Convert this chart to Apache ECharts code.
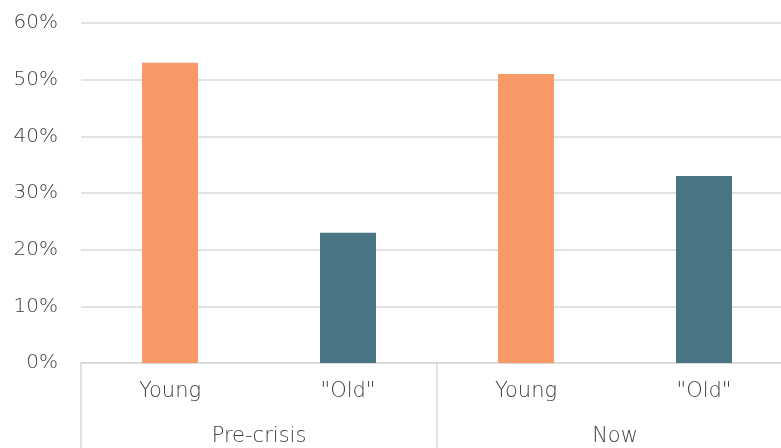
<!DOCTYPE html>
<html>
<head>
<meta charset="utf-8">
<script src="https://cdn.jsdelivr.net/npm/echarts@6/dist/echarts.min.js"></script>
<style>
  html, body { margin: 0; padding: 0; background: #fff; }
  #chart { width: 781px; height: 448px; }
</style>
</head>
<body>
<div id="chart"></div>
<script>
// data
const categories = ['Young', '"Old"', 'Young', '"Old"'];
const groups = ['Pre-crisis', 'Now'];
const values = [53, 23, 51, 33];
const yTicks = [0, 10, 20, 30, 40, 50, 60];

const colorYoung = '#F79A68';
const colorOld = '#4A7585';
const lineColor = '#d9d9d9';
const textColor = '#404040';
const font = 'DejaVu Sans';

let chart = echarts.init(document.getElementById('chart'));

let option = {
  animation: false,
  grid: {
    left: 81,
    top: 23,
    width: 712,
    height: 340,
    outerBoundsMode: 'none',
    containLabel: false
  },
  xAxis: [
    {
      type: 'category',
      data: categories,
      position: 'bottom',
      axisLine: { show: true, lineStyle: { color: lineColor, width: 1.5 } },
      axisTick: { show: false },
      axisLabel: {
        margin: 18,
        color: textColor,
        fontFamily: font,
        fontWeight: 200,
        fontSize: 21
      }
    },
    {
      type: 'category',
      data: groups,
      position: 'bottom',
      axisLine: { show: false },
      axisTick: {
        show: true,
        length: 90,
        lineStyle: { color: lineColor, width: 1.5 }
      },
      axisLabel: {
        margin: 63,
        color: textColor,
        fontFamily: font,
        fontWeight: 200,
        fontSize: 21
      }
    }
  ],
  yAxis: {
    type: 'value',
    min: yTicks[0],
    max: yTicks[yTicks.length - 1],
    interval: 10,
    axisLine: { show: false },
    axisTick: { show: false },
    splitLine: { lineStyle: { color: lineColor, width: 1.5 } },
    axisLabel: {
      formatter: '{value}%',
      margin: 23,
      color: textColor,
      fontFamily: font,
      fontWeight: 200,
      fontSize: 20
    }
  },
  series: [
    {
      type: 'bar',
      xAxisIndex: 0,
      barWidth: 56,
      data: values.map(function (v, i) {
        return {
          value: v,
          itemStyle: { color: categories[i] === 'Young' ? colorYoung : colorOld }
        };
      })
    }
  ]
};

chart.setOption(option);
</script>
</body>
</html>
